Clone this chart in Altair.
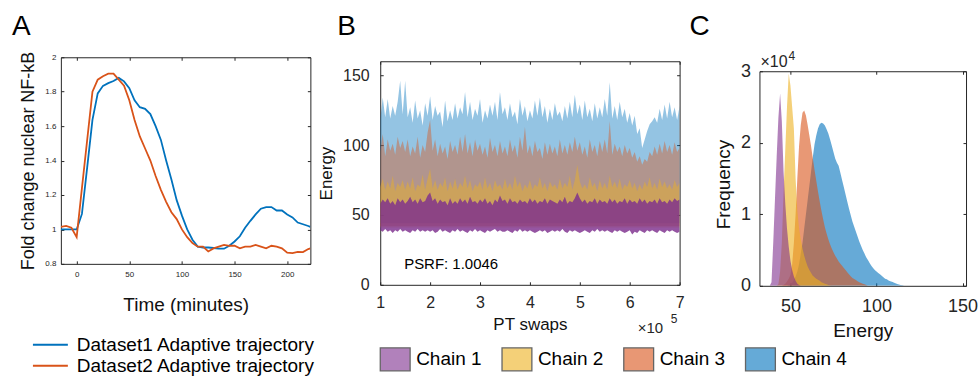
import altair as alt
import pandas as pd

FONT = "Liberation Sans"
AXC = "#262626"

# ---------------- Panel A : NF-kB trajectories ----------------
a_time = list(range(-15, 221, 5)) + [222]
a_dataset1 = [1.0, 1.0, 1.0, 1.0, 1.09, 1.36, 1.636, 1.79, 1.834, 1.85, 1.862, 1.88,
              1.86, 1.82, 1.75, 1.71, 1.70, 1.67, 1.60, 1.52, 1.40, 1.29, 1.17, 1.08,
              1.0, 0.94, 0.90, 0.895, 0.895, 0.892, 0.888, 0.888, 0.905, 0.93, 0.96, 1.01,
              1.05, 1.087, 1.12, 1.13, 1.13, 1.11, 1.11, 1.087, 1.07, 1.04, 1.03, 1.02, 1.015]
a_dataset2 = [1.015, 1.02, 1.01, 0.955, 1.24, 1.52, 1.80, 1.87, 1.89, 1.905, 1.905, 1.87,
              1.835, 1.75, 1.636, 1.54, 1.47, 1.40, 1.31, 1.23, 1.16, 1.10, 1.06, 1.0,
              0.955, 0.92, 0.90, 0.90, 0.872, 0.89, 0.90, 0.91, 0.905, 0.905, 0.89, 0.90,
              0.90, 0.91, 0.90, 0.89, 0.905, 0.90, 0.89, 0.865, 0.862, 0.87, 0.868, 0.886, 0.89]
a_names = ["Dataset1 Adaptive trajectory", "Dataset2 Adaptive trajectory"]
a_colors = ["#0072BD", "#D95319"]
a_xticks = [0, 50, 100, 150, 200]
a_yticks = [0.8, 1.0, 1.2, 1.4, 1.6, 1.8, 2.0]

# ---------------- Panel B : energy traces (envelopes, x in units of 1e5 swaps) ----------------
b_swaps = [round(1 + 0.05 * i, 2) for i in range(121)]
b_chain4_hi = [118, 134, 120, 133, 119, 128, 121, 131, 146, 122,
               146, 120, 127, 116, 132, 119, 125, 114, 130, 121,
               135, 118, 128, 121, 124, 113, 132, 117, 125, 118,
               130, 119, 127, 122, 138, 120, 131, 118, 126, 121,
               133, 116, 125, 119, 129, 121, 131, 118, 138, 122,
               127, 118, 130, 120, 124, 115, 133, 121, 128, 117,
               125, 119, 132, 121, 134, 120, 128, 116, 126, 118,
               130, 121, 124, 117, 128, 119, 131, 120, 136, 122,
               129, 118, 132, 120, 126, 117, 130, 119, 127, 120,
               133, 121, 145, 119, 128, 118, 131, 120, 126, 116,
               123, 114, 121, 108, 112, 98, 104, 110, 115, 117,
               120, 116, 126, 118, 129, 119, 131, 120, 127, 118, 128]
b_chain3_hi = [95, 108, 92, 104, 96, 101, 93, 106, 98, 103,
               95, 104, 92, 99, 94, 106, 91, 100, 95, 109,
               118, 96, 104, 92, 101, 94, 99, 90, 103, 95,
               100, 93, 106, 95, 108, 94, 102, 92, 104, 96,
               101, 93, 99, 91, 105, 95, 100, 92, 103, 94,
               99, 92, 104, 95, 100, 91, 106, 96, 113, 94,
               100, 92, 103, 95, 98, 90, 102, 93, 101, 94,
               99, 92, 104, 94, 100, 93, 102, 95, 106, 96,
               102, 93, 99, 91, 104, 95, 100, 92, 103, 95,
               104, 94, 117, 93, 101, 95, 99, 92, 100, 94,
               98, 91, 95, 88, 92, 86, 90, 88, 95, 92,
               99, 93, 101, 94, 103, 95, 100, 93, 102, 95, 98]
b_chain2_hi = [70, 76, 68, 74, 69, 78, 67, 73, 70, 75,
               68, 74, 69, 77, 67, 72, 70, 79, 68, 76,
               83, 69, 75, 68, 73, 70, 77, 67, 74, 69,
               76, 68, 73, 70, 78, 69, 75, 67, 72, 70,
               74, 68, 77, 69, 73, 67, 75, 70, 72, 68,
               76, 69, 73, 68, 78, 70, 74, 67, 72, 69,
               75, 68, 72, 70, 77, 69, 73, 67, 74, 70,
               72, 68, 76, 69, 73, 70, 78, 68, 75, 86,
               74, 69, 72, 68, 77, 70, 73, 67, 75, 69,
               73, 68, 78, 70, 74, 69, 76, 68, 72, 70,
               75, 69, 73, 67, 72, 68, 74, 70, 77, 69,
               73, 68, 76, 70, 74, 69, 72, 68, 75, 70, 73]
b_chain1_hi = [58, 61, 59, 62, 58, 60, 57, 62, 59, 61,
               58, 60, 63, 59, 61, 58, 62, 59, 60, 64,
               66, 60, 62, 58, 61, 59, 60, 57, 62, 58,
               60, 58, 62, 59, 61, 58, 63, 59, 60, 58,
               61, 59, 62, 58, 60, 57, 61, 59, 64, 60,
               61, 58, 62, 59, 60, 58, 61, 59, 60, 58,
               62, 59, 61, 58, 60, 59, 62, 58, 61, 60,
               59, 58, 61, 59, 63, 58, 60, 59, 62, 66,
               62, 59, 61, 58, 60, 59, 62, 58, 61, 59,
               60, 58, 62, 59, 61, 58, 60, 59, 62, 58,
               61, 59, 60, 58, 62, 59, 61, 58, 60, 59,
               61, 58, 62, 59, 60, 58, 61, 59, 62, 60, 61]
b_chain1_lo = [39, 38, 40, 38, 39, 37, 39, 38, 40, 38,
               39, 38, 37, 39, 38, 40, 38, 39, 38, 39,
               38, 39, 37, 38, 40, 38, 39, 38, 37, 39,
               38, 40, 38, 39, 38, 37, 39, 38, 40, 38,
               39, 38, 37, 39, 38, 39, 40, 38, 39, 38,
               38, 39, 38, 37, 39, 38, 40, 38, 39, 38,
               39, 38, 37, 38, 39, 38, 39, 37, 38, 39,
               38, 39, 38, 40, 38, 37, 39, 38, 39, 38,
               37, 38, 39, 38, 37, 39, 38, 40, 38, 39,
               38, 39, 38, 37, 39, 38, 39, 38, 37, 38,
               39, 36, 38, 37, 39, 38, 37, 39, 38, 39,
               38, 37, 39, 38, 37, 39, 38, 39, 38, 37, 38]
b_hidden_lo = {"Chain 2": 41, "Chain 3": 42, "Chain 4": 44}
b_opacity = {"Chain 4": 0.42, "Chain 3": 0.42, "Chain 2": 0.45, "Chain 1": 0.82}
b_xticks = [1, 2, 3, 4, 5, 6, 7]
b_yticks = [0, 50, 100, 150]
psrf_label = "PSRF: 1.0046"
psrf_pos = (1.48, 11.2)

chains = ["Chain 1", "Chain 2", "Chain 3", "Chain 4"]
chain_colors = ["#7E2F8E", "#EDB120", "#D95319", "#0072BD"]

# ---------------- Panel C : energy histograms (frequency in units of 1e4) ----------------
c_start = {"Chain 1": 38, "Chain 2": 42, "Chain 3": 45, "Chain 4": 48}
c_freq = {
    "Chain 1": [0, 0.05, 0.6, 1.2, 1.8, 2.35, 2.69, 2.3, 1.6, 1.15, 0.8, 0.55, 0.35,
                0.22, 0.13, 0.07, 0.03, 0.01, 0],
    "Chain 2": [0, 0.02, 0.2, 0.6, 1.3, 1.9, 2.5, 2.97, 2.8, 2.5, 2.2, 1.5, 1.05, 0.8,
                0.65, 0.52, 0.42, 0.34, 0.27, 0.22, 0.18, 0.14, 0.12, 0.1, 0.085, 0.07,
                0.05, 0.04, 0.03, 0.02, 0.01, 0.005, 0],
    "Chain 3": [0, 0.01, 0.03, 0.06, 0.1, 0.15, 0.3, 0.6, 1.0, 1.5, 1.95, 2.25, 2.42,
                2.45, 2.38, 2.25, 2.1, 1.95, 1.78, 1.62, 1.47, 1.32, 1.18, 1.05, 0.93,
                0.82, 0.73, 0.65, 0.58, 0.52, 0.47, 0.42, 0.38, 0.34, 0.31, 0.28, 0.25,
                0.22, 0.19, 0.16, 0.135, 0.11, 0.095, 0.08, 0.065, 0.05, 0.04, 0.03,
                0.02, 0.01, 0],
    "Chain 4": [0, 0.01, 0.02, 0.04, 0.08, 0.13, 0.2, 0.3, 0.45, 0.6, 0.8, 1.0, 1.2,
                1.4, 1.6, 1.8, 1.98, 2.1, 2.2, 2.26, 2.28, 2.27, 2.24, 2.19, 2.13, 2.05,
                1.96, 1.87, 1.78, 1.72, 1.68, 1.58, 1.48, 1.38, 1.28, 1.18, 1.08, 0.99,
                0.9, 0.83, 0.76, 0.69, 0.62, 0.56, 0.5, 0.45, 0.4, 0.36, 0.32, 0.28,
                0.25, 0.22, 0.2, 0.18, 0.16, 0.14, 0.12, 0.1, 0.09, 0.075, 0.065, 0.055,
                0.045, 0.035, 0.025, 0.018, 0.012, 0.006, 0],
}
c_xticks = [50, 100, 150]
c_yticks = [0, 1, 2, 3]


# ---------------- helpers ----------------
def frame_layers(data, xf, yf, xs, ys, W, H, top, xticks, yticks):
    common = dict(title=None, labels=False, grid=False, minExtent=0, maxExtent=0,
                  domainColor=AXC, tickColor=AXC, domainWidth=1, tickWidth=1)

    def mk(xaxis, yaxis):
        return alt.Chart(data).mark_point(opacity=0, size=1).encode(
            x=alt.X(xf, scale=xs, axis=xaxis),
            y=alt.Y(yf, scale=ys, axis=yaxis))

    box = mk(alt.Axis(orient="top", offset=-top, domain=True, ticks=False, **common),
             alt.Axis(orient="right", domain=True, ticks=False, **common))
    tk1 = mk(alt.Axis(orient="top", offset=-H, domain=False, ticks=True, tickSize=3,
                      values=xticks, **common),
             alt.Axis(orient="right", offset=-W, domain=False, ticks=True, tickSize=3,
                      values=yticks, **common))
    tk2 = mk(alt.Axis(orient="bottom", offset=top - H, domain=False, ticks=True, tickSize=3,
                      values=xticks, **common),
             alt.Axis(orient="left", offset=-W, domain=False, ticks=True, tickSize=3,
                      values=yticks, **common))
    return [box, tk1, tk2]


def main_axis(orient, values, title, lsize, lpad, tsize, fmt=None, **kw):
    d = dict(orient=orient, values=values, title=title, grid=False, domain=True,
             ticks=False, tickSize=0, labelFontSize=lsize, labelPadding=lpad,
             labelFlush=False, labelOverlap=False, labelColor=AXC, labelFont=FONT,
             titleFont=FONT, titleFontSize=tsize, titleFontWeight="normal",
             titleColor="#111111", titleBaseline="alphabetic",
             domainColor=AXC, domainWidth=1)
    if orient == "bottom":
        d["labelBaseline"] = "alphabetic"
    if fmt:
        d["format"] = fmt
    d.update(kw)
    return alt.Axis(**d)


def letter(ch, dx):
    return alt.Chart(pd.DataFrame({"l": [ch]})).mark_text(
        font=FONT, fontSize=28, align="left", baseline="top", color="black"
    ).encode(text="l:N", x=alt.value(dx), y=alt.value(-44))


def note(txt, px, py, size):
    return alt.Chart(pd.DataFrame({"l": [txt]})).mark_text(
        font=FONT, fontSize=size, align="left", baseline="alphabetic", color=AXC
    ).encode(text="l:N", x=alt.value(px), y=alt.value(py))


chain_legend = alt.Legend(
    orient="none", legendX=322.5, legendY=290, direction="horizontal", columns=4,
    title=None, symbolType="M-1.3,-1H1.3V1H-1.3Z", symbolSize=529,
    symbolStrokeColor="black", symbolStrokeWidth=1.3, symbolOpacity=0.6,
    labelFont=FONT, labelFontSize=19, labelColor="black", labelOffset=8.5,
    columnPadding=17, padding=0, labelLimit=300)
fill_scale = alt.Scale(domain=chains, range=chain_colors)

# ---------------- Panel A ----------------
WA, HA = 250, 207
n = len(a_time)
dfA = pd.DataFrame({"t": a_time * 2, "v": a_dataset1 + a_dataset2,
                    "series": [a_names[0]] * n + [a_names[1]] * n})
xsA = alt.Scale(domain=[-15, 222], nice=False, zero=False)
ysA = alt.Scale(domain=[0.8, 2.0], nice=False, zero=False, range=[HA, 0])
legendA = alt.Legend(orient="none", legendX=-21.5, legendY=277, direction="vertical",
                     title=None, symbolType="M-1.75,0H1.75", symbolSize=400,
                     symbolStrokeWidth=2, labelFont=FONT, labelFontSize=19,
                     labelColor="black", labelOffset=15.5, rowPadding=0, padding=0,
                     labelLimit=400)
linesA = alt.Chart(dfA).mark_line(strokeWidth=1.8, clip=True).encode(
    x=alt.X("t:Q", scale=xsA,
            axis=main_axis("bottom", a_xticks, "Time (minutes)", 8, 12.7, 19, titleY=46.5)),
    y=alt.Y("v:Q", scale=ysA,
            axis=main_axis("left", a_yticks, "Fold change nuclear NF-kB", 8, 5, 18,
                           fmt="~g", titleX=-27)),
    stroke=alt.Stroke("series:N", scale=alt.Scale(domain=a_names, range=a_colors),
                      legend=legendA),
)
panelA = alt.layer(
    linesA, *frame_layers(dfA, "t:Q", "v:Q", xsA, ysA, WA, HA, 0, a_xticks, a_yticks),
    letter("A", -49)
).resolve_axis(x="independent", y="independent").properties(width=WA, height=HA)

# ---------------- Panel B ----------------
WB, HB, TB = 300, 228, 4
xsB = alt.Scale(domain=[1, 7], nice=False, zero=False)
ysB = alt.Scale(domain=[0, 160], nice=False, zero=False, range=[HB, TB])
hi_lists = {"Chain 1": b_chain1_hi, "Chain 2": b_chain2_hi,
            "Chain 3": b_chain3_hi, "Chain 4": b_chain4_hi}
b_layers = []
for i, ch in enumerate(["Chain 4", "Chain 3", "Chain 2", "Chain 1"]):
    lo = b_chain1_lo if ch == "Chain 1" else [b_hidden_lo[ch]] * len(b_swaps)
    dfc = pd.DataFrame({"x": b_swaps, "lo": lo, "hi": hi_lists[ch], "chain": ch})
    if i == 0:
        xa = main_axis("bottom", b_xticks, "PT swaps", 16, 23, 17, titleY=45)
        ya = main_axis("left", b_yticks, "Energy", 16, 11, 17, titleX=-48.5)
        dfB = dfc
    else:
        xa, ya = None, None
    b_layers.append(
        alt.Chart(dfc).mark_area(opacity=b_opacity[ch], clip=True, interpolate="linear").encode(
            x=alt.X("x:Q", scale=xsB, axis=xa),
            y=alt.Y("lo:Q", scale=ysB, axis=ya, stack=None),
            y2="hi:Q",
            fill=alt.Fill("chain:N", scale=fill_scale, legend=chain_legend),
        ))
psrf = alt.Chart(pd.DataFrame({"x": [psrf_pos[0]], "y": [psrf_pos[1]], "l": [psrf_label]})).mark_text(
    font=FONT, fontSize=15, align="left", baseline="alphabetic", color="black"
).encode(x=alt.X("x:Q", scale=xsB, axis=None), y=alt.Y("y:Q", scale=ysB, axis=None), text="l:N")
panelB = alt.layer(
    *b_layers, *frame_layers(dfB, "x:Q", "hi:Q", xsB, ysB, WB, HB, TB, b_xticks, b_yticks),
    psrf, letter("B", -43), note("\u00d710", 258, 276, 15), note("5", 291, 266, 12)
).resolve_axis(x="independent", y="independent").properties(width=WB, height=HB)

# ---------------- Panel C ----------------
WC, HC, TC = 207, 229, 14
xsC = alt.Scale(domain=[32, 152], nice=False, zero=False)
ysC = alt.Scale(domain=[0, 3], nice=False, zero=False, range=[HC, TC])
c_layers = []
for i, ch in enumerate(["Chain 4", "Chain 3", "Chain 2", "Chain 1"]):
    vals = c_freq[ch]
    dfh = pd.DataFrame({"e": list(range(c_start[ch], c_start[ch] + len(vals))),
                        "f": vals, "chain": ch})
    if i == 0:
        xa = main_axis("bottom", c_xticks, "Energy", 18, 25.7, 19, titleY=50.7)
        ya = main_axis("left", c_yticks, "Frequency", 18, 9, 19, titleX=-30.4, titleY=127)
        dfC = dfh
    else:
        xa, ya = None, None
    c_layers.append(
        alt.Chart(dfh).mark_area(opacity=0.6, clip=True, interpolate="linear").encode(
            x=alt.X("e:Q", scale=xsC, axis=xa),
            y=alt.Y("f:Q", scale=ysC, axis=ya, stack=None),
            fill=alt.Fill("chain:N", scale=fill_scale, legend=chain_legend),
        ))
panelC = alt.layer(
    *c_layers, *frame_layers(dfC, "e:Q", "f:Q", xsC, ysC, WC, HC, TC, c_xticks, c_yticks),
    letter("C", -70), note("\u00d710", 1, 10, 16), note("4", 29, 3, 12)
).resolve_axis(x="independent", y="independent").properties(width=WC, height=HC)

# ---------------- assemble ----------------
chart = alt.hconcat(
    alt.hconcat(panelA, panelB, spacing=6),
    panelC, spacing=5
).properties(
    padding={"left": 12, "top": 13, "right": 0, "bottom": 0},
    autosize=alt.AutoSizeParams(type="pad"),
).configure_view(stroke=None).configure_axis(grid=False)

chart.save("out.html", embed_options={"renderer": "svg", "actions": False})
